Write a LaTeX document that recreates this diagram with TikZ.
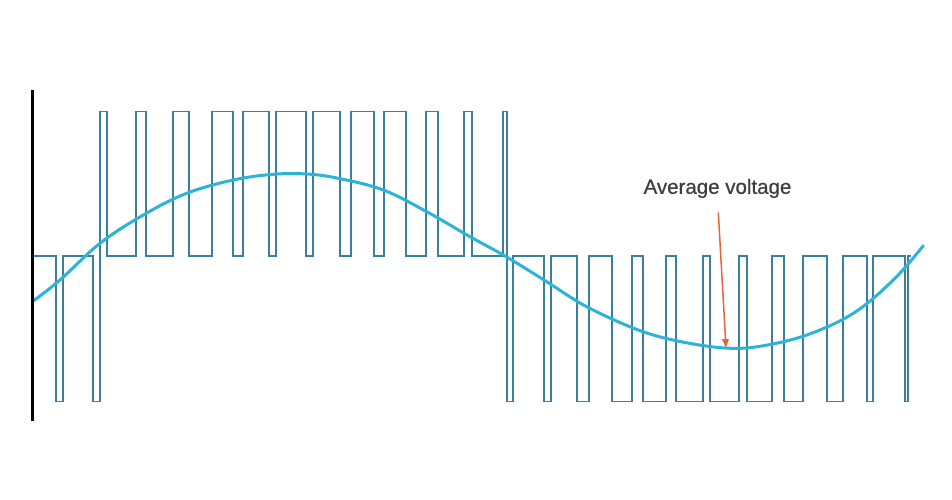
\documentclass[tikz,border=0pt]{standalone}
\usepackage{fontspec}
\setmainfont{Liberation Sans}
\newfontfamily\lblfont[FakeBold=0.6]{Liberation Sans}
\usetikzlibrary{arrows.meta}
\definecolor{pwmblue}{HTML}{3C7F9C}
\definecolor{sinecyan}{HTML}{2BB4D6}
\definecolor{arrowred}{HTML}{E8643C}
\definecolor{labelgray}{HTML}{3E3E3E}
\tikzset{
  pwm/.style={draw=pwmblue, line width=1.7pt, line join=miter},
  sinecurve/.style={draw=sinecyan, line width=3pt, line cap=round},
  axisline/.style={draw=black, line width=2.6pt},
  pointer/.style={draw=arrowred, line width=1.5pt, -{Triangle[length=9pt,width=6.5pt]}},
  lbltext/.style={text=labelgray, font=\lblfont\fontsize{20.5}{23}\selectfont, inner sep=0pt}
}
\begin{document}
\begin{tikzpicture}[x=1pt,y=-1pt]
\useasboundingbox (0,0) rectangle (952,500);
\def\T{111.5}\def\M{256}\def\B{401.5}
% PWM waveform
\draw[pwm] (32.3,\M)
 -| (55.7,\B) -| (63.3,\M) -| (92.7,\B) -| (100,\T) -| (107.3,\M)
 -| (136,\T) -| (146,\M) -| (173.3,\T) -| (189.3,\M) -| (211.7,\T) -| (232.7,\M)
 -| (243.3,\T) -| (269.3,\M) -| (276,\T) -| (306,\M) -| (312.7,\T) -| (340,\M)
 -| (350.7,\T) -| (374,\M) -| (384.3,\T) -| (405.7,\M) -| (425.7,\T) -| (438.3,\M)
 -| (464,\T) -| (472.3,\M) -| (502.7,\T) -| (506.7,\B) -| (513.3,\M)
 -| (544,\B) -| (550.7,\M) -| (577.3,\B) -| (589.3,\M) -| (611.7,\B) -| (631.7,\M)
 -| (642.7,\B) -| (665.7,\M) -| (676,\B) -| (703.3,\M) -| (710,\B) -| (739.3,\M)
 -| (747.3,\B) -| (771.7,\M) -| (784,\B) -| (802.7,\M) -| (826.7,\B) -| (842.7,\M)
 -| (866.7,\B) -| (872.7,\M) -| (905,\B) -| (908.3,\M) -- (911,\M);
% average voltage curve
\draw[sinecurve] plot[smooth, tension=0.6] coordinates {
 (32.3,301.7) (60,280) (100,243.3) (143.3,215) (186.7,193.3) (233.3,180)
 (273.3,174.3) (306.7,174) (338.3,178.3) (383.3,190) (426.7,211.7) (470,236.7)
 (505,256) (546.7,281.7) (586.7,306.7) (638.3,330) (680,341.5) (725,348)
 (760,346.3) (806.7,335) (853.3,313.3) (893.3,280) (923.3,245.7)};
% vertical axis
\draw[axisline] (32.3,90) coordinate (axtop) -- (32.3,421) coordinate (axbot);
% label and pointer
\node[lbltext] (lbl) at (717.5,188.5) {Average voltage};
\coordinate (astart) at (718.3,212.5);
\coordinate (atip) at (726,348);
\draw[pointer] (astart) -- (atip);
\end{tikzpicture}
\end{document}
